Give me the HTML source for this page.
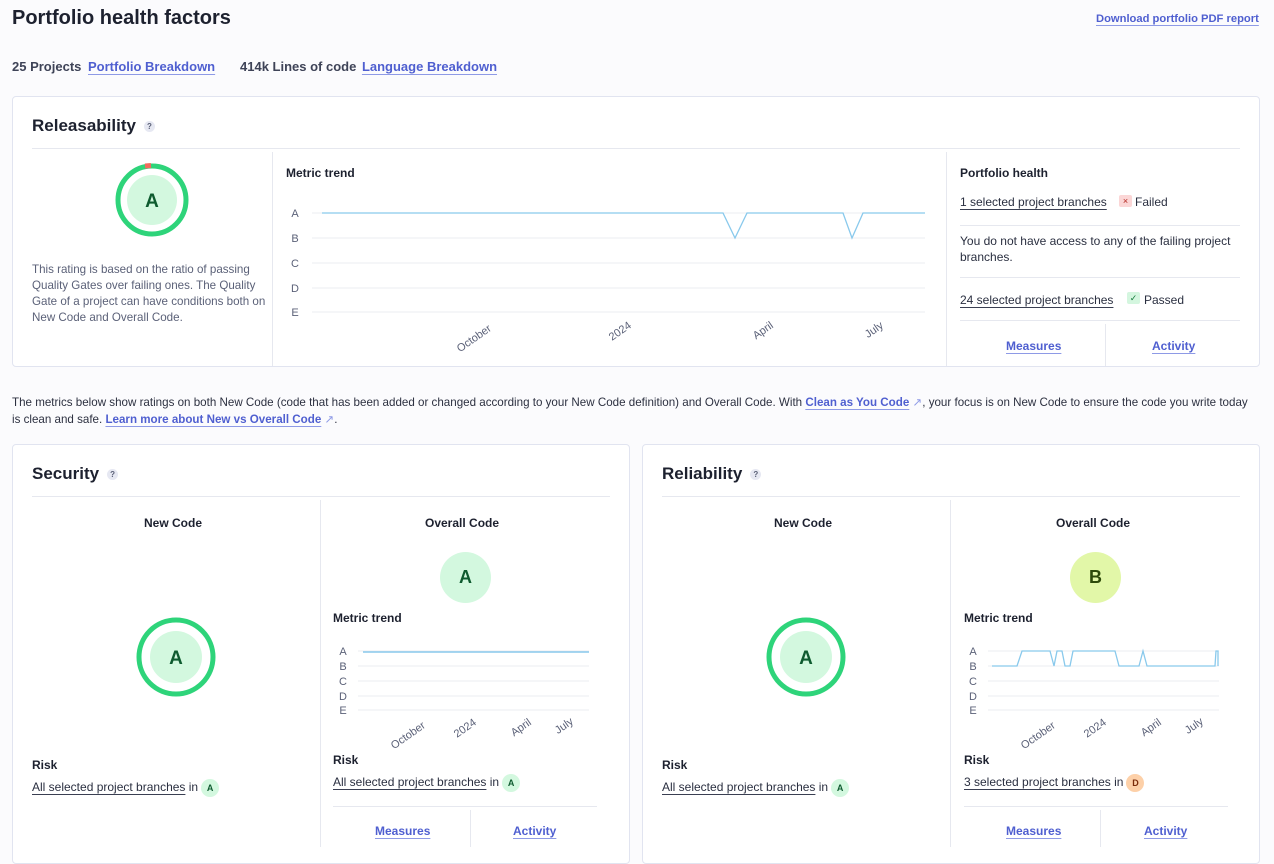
<!DOCTYPE html>
<html><head><meta charset="utf-8"><style>
*{margin:0;padding:0;box-sizing:border-box}
body{width:1274px;height:847px;background:#fbfbfd;font-family:"Liberation Sans",sans-serif;color:#2a2f40;position:relative;overflow:hidden}
.a{position:absolute;white-space:nowrap}
.lnk{color:#4f5fd0;text-decoration:underline;text-underline-offset:3px;text-decoration-color:#8e9ae6}
.card{position:absolute;background:#fff;border:1px solid #e1e4f0;border-radius:4px}
.h{font-weight:bold;color:#1d212f;font-size:17px}
.q{display:inline-block;width:11px;height:11px;border-radius:50%;background:#e6e8f2;color:#5b6178;font-size:8px;text-align:center;line-height:11px;vertical-align:middle;margin-left:8px;font-weight:bold}
.hl{position:absolute;height:1px;background:#e6e8ef}
.vl{position:absolute;width:1px;background:#e6e8ef}
.s12{font-size:12px}
.b{font-weight:bold;color:#1d212f}
.ul{text-decoration:underline;text-underline-offset:3px;text-decoration-color:#3a3f52}
.bd{display:inline-block;width:18px;height:18px;border-radius:50%;font-size:9px;font-weight:bold;text-align:center;line-height:18px;vertical-align:middle;margin-left:3px}
.ga{background:#d3f8df;color:#0e5b2f}
svg text{font-family:"Liberation Sans",sans-serif}
</style></head><body>
<div class="a" style="left:12px;top:7px;font-size:20px;font-weight:bold;color:#1d212f">Portfolio health factors</div>
<div class="a lnk" style="left:1096px;top:13px;font-size:11.2px;font-weight:bold">Download portfolio PDF report</div>
<div class="a" style="left:12px;top:59px;font-size:13px;font-weight:bold;color:#3e4357">25 Projects <span class="lnk" style="margin-left:3px">Portfolio Breakdown</span></div>
<div class="a" style="left:240px;top:59px;font-size:13px;font-weight:bold;color:#3e4357">414k Lines of code <span class="lnk" style="margin-left:2px">Language Breakdown</span></div>

<div class="card" style="left:12px;top:96px;width:1248px;height:271px"></div>
<div class="a h" style="left:32px;top:116px">Releasability<span class="q">?</span></div>
<div class="hl" style="left:32px;top:148px;width:1208px"></div>
<div class="vl" style="left:272px;top:152px;height:214px"></div>
<div class="vl" style="left:946px;top:152px;height:214px"></div>
<svg class="a" style="left:112px;top:160px" width="80" height="80">
<circle cx="40" cy="40" r="34" fill="none" stroke="#2ed47a" stroke-width="5"/>
<path d="M33 6 L39 5.5" stroke="#f06b5e" stroke-width="5"/>
<circle cx="40" cy="40" r="25" fill="#d3f8df"/>
<text x="40" y="47" text-anchor="middle" font-size="19" font-weight="bold" fill="#0e5b2f">A</text></svg>
<div class="a" style="left:32px;top:262px;font-size:11.6px;line-height:16px;color:#5b6178;white-space:normal;width:238px">This rating is based on the ratio of passing Quality Gates over failing ones. The Quality Gate of a project can have conditions both on New Code and Overall Code.</div>
<div class="a b s12" style="left:286px;top:166px">Metric trend</div>
<svg class="a" style="left:280px;top:200px" width="660" height="160" font-size="11" fill="#5b6178">
<g stroke="#ebedf2"><line x1="32" y1="13" x2="645" y2="13"/><line x1="32" y1="38" x2="645" y2="38"/><line x1="32" y1="63" x2="645" y2="63"/><line x1="32" y1="88" x2="645" y2="88"/><line x1="32" y1="112" x2="645" y2="112"/></g>
<g text-anchor="middle"><text x="15" y="17">A</text><text x="15" y="42">B</text><text x="15" y="67">C</text><text x="15" y="92">D</text><text x="15" y="116">E</text></g>
<polyline points="42,13 443,13 455,38 467,13 563,13 572,38 583,13 645,13" fill="none" stroke="#89c9ec" stroke-width="1.3"/>
<g text-anchor="end"><text transform="translate(212,130) rotate(-35)">October</text><text transform="translate(352,127) rotate(-35)">2024</text><text transform="translate(494,127) rotate(-35)">April</text><text transform="translate(604,127) rotate(-35)">July</text></g></svg>

<div class="a b s12" style="left:960px;top:166px">Portfolio health</div>
<div class="a s12 ul" style="left:960px;top:195px">1 selected project branches</div>
<div class="a" style="left:1119px;top:195px;width:13px;height:12px;background:#fbd6d6;border-radius:2px;color:#b3261e;font-size:9px;text-align:center;line-height:12px">×</div>
<div class="a s12" style="left:1135px;top:195px">Failed</div>
<div class="hl" style="left:960px;top:225px;width:280px"></div>
<div class="a s12" style="left:960px;top:233px;white-space:normal;width:290px;line-height:16px">You do not have access to any of the failing project branches.</div>
<div class="hl" style="left:960px;top:277px;width:280px"></div>
<div class="a s12 ul" style="left:960px;top:293px">24 selected project branches</div>
<div class="a" style="left:1127px;top:292px;width:13px;height:12px;background:#d4f6df;border-radius:2px;color:#137a3a;font-size:9px;text-align:center;line-height:12px">✓</div>
<div class="a s12" style="left:1144px;top:293px">Passed</div>
<div class="hl" style="left:960px;top:320px;width:280px"></div>
<div class="vl" style="left:1105px;top:324px;height:42px"></div>
<div class="a lnk s12" style="left:1006px;top:339px;font-weight:bold">Measures</div>
<div class="a lnk s12" style="left:1152px;top:339px;font-weight:bold">Activity</div>

<div class="a" style="left:12px;top:394px;font-size:11.6px;line-height:17px;color:#2c3040;white-space:normal;width:1243px">The metrics below show ratings on both New Code (code that has been added or changed according to your New Code definition) and Overall Code. With <span class="lnk" style="font-weight:bold">Clean as You Code</span> <span style="color:#8e9ae6">↗</span>, your focus is on New Code to ensure the code you write today is clean and safe. <span class="lnk" style="font-weight:bold">Learn more about New vs Overall Code</span> <span style="color:#8e9ae6">↗</span>.</div>

<!-- Security -->
<div class="card" style="left:12px;top:444px;width:618px;height:420px"></div>
<div class="a h" style="left:32px;top:464px">Security<span class="q">?</span></div>
<div class="hl" style="left:32px;top:496px;width:578px"></div>
<div class="vl" style="left:320px;top:500px;height:347px"></div>
<div class="a b s12" style="left:144px;top:516px">New Code</div>
<svg class="a" style="left:134px;top:615px" width="84" height="84"><circle cx="42" cy="42" r="37" fill="none" stroke="#2ed47a" stroke-width="5"/><circle cx="42" cy="42" r="26" fill="#d3f8df"/><text x="42" y="49" text-anchor="middle" font-size="19" font-weight="bold" fill="#0e5b2f">A</text></svg>
<div class="a b s12" style="left:32px;top:758px">Risk</div>
<div class="a s12" style="left:32px;top:779px"><span class="ul">All selected project branches</span> in<span class="bd ga">A</span></div>
<div class="a b s12" style="left:425px;top:516px">Overall Code</div>
<div class="a" style="left:440px;top:552px;width:51px;height:51px;border-radius:50%;background:#d3f8df;color:#0e5b2f;font-size:18px;font-weight:bold;text-align:center;line-height:51px">A</div>
<div class="a b s12" style="left:333px;top:611px">Metric trend</div>
<svg class="a" style="left:330px;top:640px" width="270" height="115" font-size="11" fill="#5b6178">
<g stroke="#ebedf2"><line x1="28" y1="11" x2="259" y2="11"/><line x1="28" y1="26" x2="259" y2="26"/><line x1="28" y1="41" x2="259" y2="41"/><line x1="28" y1="56" x2="259" y2="56"/><line x1="28" y1="70" x2="259" y2="70"/></g>
<g text-anchor="middle"><text x="13" y="15">A</text><text x="13" y="30">B</text><text x="13" y="45">C</text><text x="13" y="60">D</text><text x="13" y="74">E</text></g>
<line x1="33" y1="12" x2="259" y2="12" stroke="#89c9ec" stroke-width="1.5"/>
<g text-anchor="end"><text transform="translate(96,87) rotate(-35)">October</text><text transform="translate(147,84) rotate(-35)">2024</text><text transform="translate(202,84) rotate(-35)">April</text><text transform="translate(244,83) rotate(-35)">July</text></g></svg>
<div class="a b s12" style="left:333px;top:753px">Risk</div>
<div class="a s12" style="left:333px;top:774px"><span class="ul">All selected project branches</span> in<span class="bd ga">A</span></div>
<div class="hl" style="left:333px;top:806px;width:264px"></div>
<div class="vl" style="left:470px;top:810px;height:37px"></div>
<div class="a lnk s12" style="left:375px;top:824px;font-weight:bold">Measures</div>
<div class="a lnk s12" style="left:513px;top:824px;font-weight:bold">Activity</div>

<!-- Reliability -->
<div class="card" style="left:642px;top:444px;width:618px;height:420px"></div>
<div class="a h" style="left:662px;top:464px">Reliability<span class="q">?</span></div>
<div class="hl" style="left:662px;top:496px;width:578px"></div>
<div class="vl" style="left:950px;top:500px;height:347px"></div>
<div class="a b s12" style="left:774px;top:516px">New Code</div>
<svg class="a" style="left:764px;top:615px" width="84" height="84"><circle cx="42" cy="42" r="37" fill="none" stroke="#2ed47a" stroke-width="5"/><circle cx="42" cy="42" r="26" fill="#d3f8df"/><text x="42" y="49" text-anchor="middle" font-size="19" font-weight="bold" fill="#0e5b2f">A</text></svg>
<div class="a b s12" style="left:662px;top:758px">Risk</div>
<div class="a s12" style="left:662px;top:779px"><span class="ul">All selected project branches</span> in<span class="bd ga">A</span></div>
<div class="a b s12" style="left:1056px;top:516px">Overall Code</div>
<div class="a" style="left:1070px;top:552px;width:51px;height:51px;border-radius:50%;background:#e2f7a8;color:#2d4a0a;font-size:18px;font-weight:bold;text-align:center;line-height:51px">B</div>
<div class="a b s12" style="left:964px;top:611px">Metric trend</div>
<svg class="a" style="left:960px;top:640px" width="270" height="115" font-size="11" fill="#5b6178">
<g stroke="#ebedf2"><line x1="28" y1="11" x2="259" y2="11"/><line x1="28" y1="26" x2="259" y2="26"/><line x1="28" y1="41" x2="259" y2="41"/><line x1="28" y1="56" x2="259" y2="56"/><line x1="28" y1="70" x2="259" y2="70"/></g>
<g text-anchor="middle"><text x="13" y="15">A</text><text x="13" y="30">B</text><text x="13" y="45">C</text><text x="13" y="60">D</text><text x="13" y="74">E</text></g>
<polyline points="32,26 57,26 62,11 90,11 94,26 97,11 102,11 105,26 110,26 113,11 155,11 159,26 179,26 183,11 187,26 255,26 256,11 258,11 258,26" fill="none" stroke="#89c9ec" stroke-width="1.3"/>
<g text-anchor="end"><text transform="translate(96,87) rotate(-35)">October</text><text transform="translate(147,84) rotate(-35)">2024</text><text transform="translate(202,84) rotate(-35)">April</text><text transform="translate(244,83) rotate(-35)">July</text></g></svg>
<div class="a b s12" style="left:964px;top:753px">Risk</div>
<div class="a s12" style="left:964px;top:774px"><span class="ul">3 selected project branches</span> in<span class="bd" style="background:#fdd0a8;color:#7a2b0a">D</span></div>
<div class="hl" style="left:964px;top:806px;width:264px"></div>
<div class="vl" style="left:1100px;top:810px;height:37px"></div>
<div class="a lnk s12" style="left:1006px;top:824px;font-weight:bold">Measures</div>
<div class="a lnk s12" style="left:1144px;top:824px;font-weight:bold">Activity</div>
</body></html>
